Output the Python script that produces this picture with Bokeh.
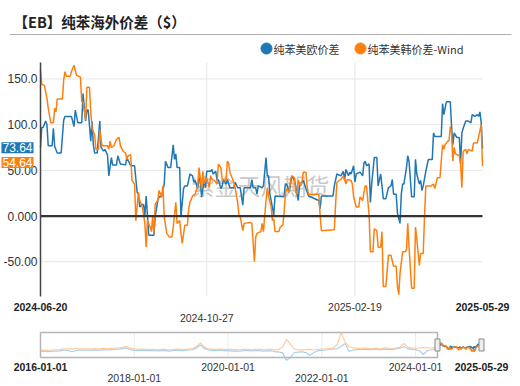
import pandas as pd
from bokeh.plotting import figure
from bokeh.models import Range1d, Label
from bokeh.embed import file_html
from bokeh.resources import INLINE
from bokeh.core.properties import value

TITLE = "【EB】纯苯海外价差（$）"
SERIES_NAMES = ["纯苯美欧价差", "纯苯美韩价差-Wind"]
COLORS = ["#1f77b4", "#ff7f0e"]
PALE_COLORS = ["#acd0ea", "#ffcda3"]
WATERMARK = "紫金天风期货"

# 纯苯美欧价差
eu_dates = [
    "2024-06-20", "2024-06-21", "2024-06-22", "2024-06-24", "2024-06-25", "2024-06-26", "2024-06-29", "2024-06-30",
    "2024-07-01", "2024-07-03", "2024-07-06", "2024-07-08", "2024-07-09", "2024-07-14", "2024-07-16", "2024-07-17",
    "2024-07-19", "2024-07-22", "2024-07-23", "2024-07-25", "2024-07-26", "2024-07-27", "2024-07-29", "2024-07-30", "2024-07-31",
    "2024-08-01", "2024-08-03", "2024-08-05", "2024-08-06", "2024-08-08", "2024-08-09", "2024-08-11", "2024-08-12",
    "2024-08-14", "2024-08-15", "2024-08-18", "2024-08-19", "2024-08-21", "2024-08-25", "2024-08-26", "2024-08-29",
    "2024-09-01", "2024-09-03", "2024-09-04", "2024-09-05", "2024-09-07", "2024-09-08", "2024-09-09", "2024-09-10",
    "2024-09-12", "2024-09-14", "2024-09-16", "2024-09-17", "2024-09-19", "2024-09-20", "2024-09-22", "2024-09-24",
    "2024-09-25", "2024-09-27", "2024-09-29",
    "2024-10-01", "2024-10-02", "2024-10-03", "2024-10-04", "2024-10-06", "2024-10-07", "2024-10-09", "2024-10-10",
    "2024-10-12", "2024-10-14", "2024-10-16", "2024-10-17", "2024-10-18", "2024-10-20", "2024-10-21", "2024-10-22",
    "2024-10-23", "2024-10-25", "2024-10-26", "2024-10-27", "2024-10-30", "2024-10-31",
    "2024-11-01", "2024-11-03", "2024-11-04", "2024-11-05", "2024-11-07", "2024-11-08", "2024-11-09", "2024-11-11",
    "2024-11-12", "2024-11-14", "2024-11-17", "2024-11-18", "2024-11-20", "2024-11-22", "2024-11-24", "2024-11-25", "2024-11-30",
    "2024-12-01", "2024-12-02", "2024-12-04", "2024-12-05", "2024-12-06", "2024-12-09", "2024-12-10", "2024-12-12",
    "2024-12-13", "2024-12-14", "2024-12-15", "2024-12-16", "2024-12-18", "2024-12-19", "2024-12-26", "2024-12-27",
    "2024-12-28", "2024-12-30", "2024-12-31",
    "2025-01-01", "2025-01-03", "2025-01-04", "2025-01-06", "2025-01-07", "2025-01-09", "2025-01-10", "2025-01-12",
    "2025-01-13", "2025-01-14", "2025-01-22", "2025-01-23", "2025-01-24",
    "2025-02-02", "2025-02-03", "2025-02-05", "2025-02-08", "2025-02-10", "2025-02-11", "2025-02-12", "2025-02-14",
    "2025-02-15", "2025-02-16", "2025-02-18", "2025-02-19", "2025-02-20", "2025-02-23", "2025-02-25", "2025-02-26",
    "2025-02-27", "2025-02-28",
    "2025-03-02", "2025-03-03", "2025-03-04", "2025-03-06", "2025-03-08", "2025-03-09", "2025-03-11", "2025-03-12",
    "2025-03-13", "2025-03-15", "2025-03-17", "2025-03-19", "2025-03-20", "2025-03-21", "2025-03-23", "2025-03-24",
    "2025-03-26", "2025-03-27", "2025-03-28", "2025-03-29", "2025-03-31",
    "2025-04-01", "2025-04-02", "2025-04-04", "2025-04-06", "2025-04-07", "2025-04-08", "2025-04-10", "2025-04-11",
    "2025-04-12", "2025-04-13", "2025-04-15", "2025-04-17", "2025-04-20", "2025-04-21", "2025-04-22", "2025-04-27",
    "2025-04-28", "2025-04-29", "2025-04-30",
    "2025-05-01", "2025-05-04", "2025-05-05", "2025-05-06", "2025-05-07", "2025-05-09", "2025-05-11", "2025-05-12",
    "2025-05-13", "2025-05-14", "2025-05-16", "2025-05-18", "2025-05-20", "2025-05-21", "2025-05-23", "2025-05-25",
    "2025-05-26", "2025-05-27", "2025-05-28", "2025-05-29",
]
eu_values = [
    75, 97, 97, 104, 100, 77, 77, 96,
    76, 69, 69, 105, 109, 109, 98, 116, 102, 102, 134, 104, 116, 116, 82, 104, 78,
    69, 69, 104, 75, 71, 73, 67, 44, 64, 56, 56, 66, 57, 56, 64, 55,
    55, 26, 24, 10, 13, 12, 1, 22, -21, -21, -21, -1, 17, 21, 21, 35, 60, 53, 53,
    78, 62, 68, 53, 53, -1, 30, 33, 33, 46, 44, 37, 39, 30, 42, 39, 21, 39, 31, 49, 49, 51,
    46, 49, 39, 40, 30, 33, 40, 35, 40, 31, 31, 37, 31, 31, 12, 31, 31,
    40, 31, 31, 24, 33, 31, 33, 64, 44, 44, 24, 17, 1, 22, 21, 35, 35, 26, 35,
    44, 40, 33, 17, 33, 37, 39, 30, 26, 22, 17, 8, 22,
    22, 33, 46, 44, 49, 39, 51, 44, 48, 46, 55, 37, 46, 48, 44, 58, 60, 55,
    57, 15, 35, 64, 64, 33, 46, 33, 19, 19, 31, 33, 40, 24, 24, 3, -8, 24, 35, 35, 53,
    66, 60, 21, 21, 62, 46, 35, 39, 28, 33, 49, 62, 62, 91, 87, 87, 123, 111, 118,
    125, 125, 98, 78, 91, 86, 86, 57, 91, 96, 104, 104, 102, 111, 109, 111, 109, 114, 102, 73.64,
]

# 纯苯美韩价差-Wind
kr_dates = [
    "2024-06-20", "2024-06-21", "2024-06-23", "2024-06-25", "2024-06-26", "2024-06-28", "2024-06-30",
    "2024-07-01", "2024-07-02", "2024-07-03", "2024-07-07", "2024-07-08", "2024-07-09", "2024-07-10", "2024-07-13",
    "2024-07-14", "2024-07-16", "2024-07-18", "2024-07-21", "2024-07-22", "2024-07-23", "2024-07-25", "2024-07-26",
    "2024-07-28", "2024-07-29", "2024-07-30",
    "2024-08-01", "2024-08-02", "2024-08-04", "2024-08-05", "2024-08-06", "2024-08-07", "2024-08-11", "2024-08-12",
    "2024-08-13", "2024-08-14", "2024-08-16", "2024-08-18", "2024-08-20", "2024-08-21", "2024-08-23", "2024-08-25",
    "2024-08-26", "2024-08-27", "2024-08-29", "2024-08-30",
    "2024-09-01", "2024-09-02", "2024-09-04", "2024-09-05", "2024-09-07", "2024-09-09", "2024-09-10", "2024-09-11",
    "2024-09-13", "2024-09-14", "2024-09-15", "2024-09-16", "2024-09-17", "2024-09-19", "2024-09-20", "2024-09-22",
    "2024-09-23", "2024-09-24", "2024-09-26", "2024-09-28", "2024-09-30",
    "2024-10-01", "2024-10-03", "2024-10-04", "2024-10-06", "2024-10-07", "2024-10-08", "2024-10-10", "2024-10-12",
    "2024-10-13", "2024-10-14", "2024-10-16", "2024-10-18", "2024-10-20", "2024-10-21", "2024-10-23", "2024-10-24",
    "2024-10-25", "2024-10-27", "2024-10-29", "2024-10-30", "2024-10-31",
    "2024-11-02", "2024-11-04", "2024-11-05", "2024-11-07", "2024-11-08", "2024-11-11", "2024-11-12", "2024-11-13",
    "2024-11-14", "2024-11-17", "2024-11-18", "2024-11-20", "2024-11-21", "2024-11-22", "2024-11-24", "2024-11-25",
    "2024-11-30",
    "2024-12-01", "2024-12-03", "2024-12-04", "2024-12-05", "2024-12-08", "2024-12-09", "2024-12-10", "2024-12-12",
    "2024-12-13", "2024-12-14", "2024-12-16", "2024-12-17", "2024-12-18", "2024-12-19", "2024-12-22", "2024-12-23",
    "2024-12-25", "2024-12-26", "2024-12-27", "2024-12-28", "2024-12-30", "2024-12-31",
    "2025-01-01", "2025-01-03", "2025-01-04", "2025-01-05", "2025-01-06", "2025-01-08", "2025-01-09", "2025-01-10",
    "2025-01-12", "2025-01-13", "2025-01-14", "2025-01-22", "2025-01-23", "2025-01-24",
    "2025-02-03", "2025-02-04", "2025-02-05", "2025-02-08", "2025-02-09", "2025-02-10", "2025-02-12", "2025-02-13",
    "2025-02-16", "2025-02-17", "2025-02-18", "2025-02-20", "2025-02-22", "2025-02-23", "2025-02-25", "2025-02-26",
    "2025-02-27", "2025-02-28",
    "2025-03-02", "2025-03-03", "2025-03-05", "2025-03-06", "2025-03-08", "2025-03-09", "2025-03-11", "2025-03-12",
    "2025-03-13", "2025-03-15", "2025-03-17", "2025-03-19", "2025-03-21", "2025-03-23", "2025-03-24", "2025-03-25",
    "2025-03-26", "2025-03-28", "2025-03-30", "2025-03-31",
    "2025-04-01", "2025-04-02", "2025-04-04", "2025-04-06", "2025-04-07", "2025-04-08", "2025-04-10", "2025-04-11",
    "2025-04-13", "2025-04-14", "2025-04-15", "2025-04-19", "2025-04-21", "2025-04-22", "2025-04-24", "2025-04-26",
    "2025-04-28", "2025-04-29", "2025-04-30",
    "2025-05-02", "2025-05-03", "2025-05-04", "2025-05-05", "2025-05-06", "2025-05-07", "2025-05-08", "2025-05-11",
    "2025-05-12", "2025-05-13", "2025-05-14", "2025-05-16", "2025-05-17", "2025-05-18", "2025-05-21", "2025-05-22",
    "2025-05-25", "2025-05-26", "2025-05-28", "2025-05-29",
]
kr_values = [
    160, 144, 143, 129, 118, 102, 102,
    118, 114, 128, 128, 149, 158, 153, 153, 158, 165, 154, 152, 125, 125, 105, 141, 141, 114, 96,
    89, 73, 73, 95, 82, 77, 77, 73, 82, 75, 77, 84, 86, 77, 71, 69, 62, 66, 67, 39,
    35, -5, 26, 17, 10, -8, -34, -5, -12, -17, -1, -19, 13, 17, 28, 21, 33, -1, -19, -23, -23,
    -12, 15, -8, -5, -19, -30, -10, -10, 8, 15, 22, 24, 33, 53, 30, 49, 35, 42, 31, 44, 40,
    39, 35, 57, 53, 40, 39, 60, 58, 48, 37, 31, 15, 1, -1, -16, -8, -7,
    -8, -50, -23, -19, -17, -8, -17, 17, 31, 21, 10, -5, -3, -17, -17, -12, -10, 3, 24, 30, 26, 39,
    44, 42, 26, 24, 39, 33, 39, 48, 48, 31, 24, 24, 1, -16,
    -15, 13, 37, 40, 42, 44, 35, 40, 39, 35, 21, 10, 10, 21, 17, 26, 33, 33,
    1, -39, -39, -14, -16, -34, -34, -17, -77, -77, -43, -43, -55, -55, -77, -86, -63, -39, -39, -37,
    -8, -34, -79, -79, -12, -25, -54, -41, -41, -1, 33, 33, 35, 30, 42, 42, 78, 73, 78,
    82, 82, 98, 91, 60, 75, 68, 66, 57, 31, 71, 73, 68, 73, 71, 80, 80, 87, 100, 54.64,
]

# navigator history, monthly from 2016-01 to 2024-06
hist_start = "2016-01-01"
hist_eu = [
    -80, -75, -85, -70, -70, -65, -40, -50, -90, -60, -40, -45,
    -40, -50, -35, -45, -30, -40, -30, -25, -15, 0, 20, -30,
    -50, -60, -45, -55, -50, -60, -65, -55, -60, -70, -50, -45,
    -55, -50, -40, -30, 20, 100, 0, -40, -55, -60, -45, -55,
    -60, -70, -65, -75, -60, -55, -65, -60, -55, -70, -65, -60,
    -90, -95, -120, -330, -250, -110, -100, -90, -120, -185, -110, -60,
    -50, -40, -20, -10, 0, 60, 143, -80, -40, -30, -20, -25,
    -30, -20, -25, -35, -15, -20, -25, -10, 10, 50, 0, -20,
    -30, -60, -165, -60, -40, -10,
]
hist_kr = [
    -50, -45, -50, -40, -35, -30, -10, -5, -15, 0, -5, -10,
    -5, -10, 0, -5, 5, 0, 5, 10, 20, 35, 65, 10,
    -10, -20, -15, -25, -20, -25, -30, -20, -25, -35, -20, -15,
    -25, -20, -10, 0, 60, 160, 40, -10, -20, -25, -15, -20,
    -20, -25, -30, -35, -25, -20, -30, -25, -20, -30, -25, -20,
    -35, -20, 40, 263, 120, -10, -40, -35, -30, -25, -40, -20,
    -15, -10, 0, 20, 120, 450, 190, 50, 20, 10, 0, 15,
    5, 0, 10, -5, 20, 10, 0, 15, 40, 143, 40, 20,
    10, 20, 30, 20, 15, 30,
]

y_ticks = [-50, 0, 50, 100, 150]
y_tick_labels = ["-50.00", "0.000", "50.00", "100.0", "150.0"]
y_grid_ticks = [-50, 50, 100, 150]
main_dates_row1 = ["2024-06-20", "2025-02-19", "2025-05-29"]
main_dates_row2 = ["2024-10-27"]
main_grid_dates = ["2024-10-27", "2025-02-19"]
nav_dates_row1 = ["2016-01-01", "2020-01-01", "2024-01-01", "2025-05-29"]
nav_dates_row2 = ["2018-01-01", "2022-01-01"]
nav_grid_dates = ["2018-01-01", "2020-01-01", "2022-01-01", "2024-01-01"]
bold_dates = {"2024-06-20", "2025-05-29", "2016-01-01"}

FONT = "Liberation Sans"
CJK = "Noto Sans CJK SC"

# page layout in page pixels (the Bokeh page has no body margin: canvas = 0..520 x 0..386)
PX0, PX1, PY0, PY1 = 0, 520, 0, 386
MAIN_L, MAIN_R, MAIN_T, MAIN_B = 40, 482, 62, 296
NAV_L, NAV_R, NAV_T, NAV_B = 40, 481, 332, 357
y_lo, y_hi = -88, 168
ny_lo, ny_hi = -250, 450


def ms(d):
    return pd.Timestamp(d).value / 1e6


def span_range(v_a, p_a, v_b, p_b, page_start, page_end):
    """Range whose values v_a, v_b land on page pixels p_a, p_b."""
    k = (v_b - v_a) / (p_b - p_a)
    return Range1d(start=v_a + (page_start - p_a) * k, end=v_a + (page_end - p_a) * k)


x0, x1 = ms(eu_dates[0]), ms(eu_dates[-1])
nx0 = ms(hist_start)

p = figure(width=PX1 - PX0, height=PY1 - PY0,
           x_range=Range1d(PX0, PX1), y_range=Range1d(PY1, PY0),
           x_axis_location=None, y_axis_location=None, toolbar_location=None,
           output_backend="svg", min_border=0, outline_line_color=None)
p.grid.visible = False
p.extra_x_ranges = {
    "main": span_range(x0, MAIN_L, x1, MAIN_R, PX0, PX1),
    "nav": span_range(nx0, NAV_L, x1, NAV_R, PX0, PX1),
}
p.extra_y_ranges = {
    "main": span_range(y_lo, MAIN_B, y_hi, MAIN_T, PY1, PY0),
    "nav": span_range(ny_lo, NAV_B, ny_hi, NAV_T, PY1, PY0),
}
M = dict(x_range_name="main", y_range_name="main")
N = dict(x_range_name="nav", y_range_name="nav")

# ---------------- header ----------------
p.text(x=[13], y=[21], text=[TITLE], text_font=value(CJK), text_font_style="bold",
       text_font_size="14.5px", text_baseline="middle", text_color="#222222")
p.segment(x0=[9], x1=[511], y0=[34], y1=[34], line_color="#b0b0b0", line_width=1.2)
p.scatter(x=[266, 360], y=[48, 48], size=11, fill_color=COLORS, line_color=COLORS)
p.text(x=[273, 367], y=[48, 48], text=SERIES_NAMES, text_font=value(CJK),
       text_font_size="11px", text_baseline="middle", text_color="#333333")

# ---------------- main chart ----------------
p.segment(x0=[x0] * len(y_grid_ticks), x1=[x1] * len(y_grid_ticks), y0=y_grid_ticks,
          y1=y_grid_ticks, line_color="#e6e6e6", line_width=1, **M)
gx = [ms(d) for d in main_grid_dates]
p.segment(x0=gx, x1=gx, y0=[y_lo] * len(gx), y1=[y_hi] * len(gx),
          line_color="#e6e6e6", line_width=1, **M)

p.text(x=[MAIN_L + (MAIN_R - MAIN_L) * 220 / 442], y=[184], text=[WATERMARK],
       text_font=value(CJK), text_font_size="23px", text_color="#9a9a9a", text_alpha=0.55,
       text_align="center", text_baseline="middle")

p.line(x=pd.to_datetime(eu_dates), y=eu_values, line_color=COLORS[0], line_width=1.5, **M)
p.line(x=pd.to_datetime(kr_dates), y=kr_values, line_color=COLORS[1], line_width=1.5, **M)

p.segment(x0=[x0], x1=[x1], y0=[0], y1=[0], line_color="#333333", line_width=2.2, **M)
p.segment(x0=[x0], x1=[x0], y0=[y_lo], y1=[y_hi], line_color="#444444", line_width=1.5, **M)

p.text(x=[37] * len(y_ticks), y=y_ticks, text=y_tick_labels, y_range_name="main",
       text_font=value(FONT), text_font_size="12px", text_color="#333333",
       text_align="right", text_baseline="middle")

for val, col, yoff in [(eu_values[-1], COLORS[0], 1), (kr_values[-1], COLORS[1], 3.5)]:
    p.add_layout(Label(x=33, y=val, y_range_name="main", y_offset=yoff, text=f"{val:.2f}",
                       text_align="right", text_baseline="middle", text_color="white",
                       text_font=FONT, text_font_size="12px",
                       background_fill_color=col, padding=1))


def date_text(dates, ypix, rng):
    for bold in (True, False):
        ds = [d for d in dates if (d in bold_dates) == bold]
        if not ds:
            continue
        p.text(x=[ms(d) for d in ds], y=[ypix] * len(ds), text=ds, x_range_name=rng,
               text_font=value(FONT), text_font_size="10.5px",
               text_font_style="bold" if bold else "normal",
               text_color="#222222" if bold else "#333333",
               text_align="center", text_baseline="middle")


date_text(main_dates_row1, 306, "main")
date_text(main_dates_row2, 317, "main")

# ---------------- navigator ----------------
ngx = [ms(d) for d in nav_grid_dates]
p.segment(x0=ngx, x1=ngx, y0=[ny_lo] * len(ngx), y1=[ny_hi] * len(ngx),
          line_color="#ececec", line_width=1, **N)

hist_dates = list(pd.date_range(hist_start, periods=len(hist_eu), freq="MS"))
p.line(x=hist_dates + [pd.Timestamp(eu_dates[0])], y=hist_eu + [eu_values[0]],
       line_color=PALE_COLORS[0], line_width=1.2, **N)
p.line(x=hist_dates + [pd.Timestamp(kr_dates[0])], y=hist_kr + [kr_values[0]],
       line_color=PALE_COLORS[1], line_width=1.2, **N)
p.line(x=pd.to_datetime(eu_dates), y=eu_values, line_color=COLORS[0], line_width=1.3, **N)
p.line(x=pd.to_datetime(kr_dates), y=kr_values, line_color=COLORS[1], line_width=1.3, **N)

p.quad(left=[nx0], right=[x0], bottom=[ny_lo], top=[ny_hi], fill_alpha=0,
       line_color="#b5b5b5", line_width=1.5, **N)
p.rect(x=[x0, x1], y=[(ny_lo + ny_hi) / 2] * 2, width=5, height=12,
       width_units="screen", height_units="screen", fill_color="#eeeeee",
       line_color="#888888", line_width=1, **N)

date_text(nav_dates_row1, 366, "nav")
date_text(nav_dates_row2, 377, "nav")

with open("out.html", "w", encoding="utf-8") as f:
    f.write(file_html(p, INLINE, title="纯苯海外价差"))
